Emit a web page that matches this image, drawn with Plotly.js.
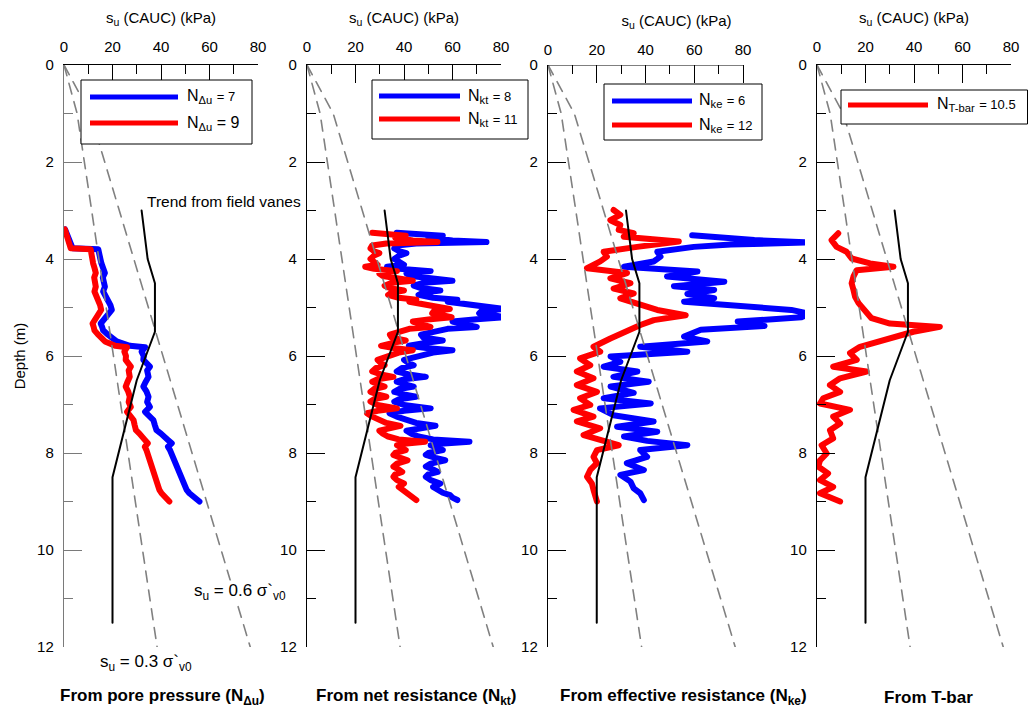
<!DOCTYPE html>
<html>
<head>
<meta charset="utf-8">
<script src="https://cdn.plot.ly/plotly-3.0.1.min.js"></script>
<style>
  html, body { margin: 0; padding: 0; background: #fff; }
  #chart { width: 1028px; height: 711px; }
  .scatterlayer .js-line { stroke-linejoin: round; stroke-linecap: round; }
</style>
</head>
<body>
<div id="chart"></div>
<script>
// ---- Cone sounding 1: pore pressure excess (kPa) ----
const duDepth = [3.39,3.50,3.60,3.70,3.78,3.80,3.88,4.00,4.09,4.20,4.29,4.38,4.47,4.57,4.67,4.76,4.84,4.95,5.05,5.12,5.19,5.26,5.33,5.40,5.47,5.55,5.60,5.70,5.79,5.82,5.91,6.00,6.08,6.15,6.22,6.30,6.43,6.53,6.63,6.73,6.84,6.95,7.05,7.15,7.25,7.32,7.42,7.53,7.60,7.66,7.73,7.80,7.87,7.94,8.05,8.15,8.25,8.35,8.45,8.56,8.66,8.76,8.83,8.90,9.00];
const du = [3,10,14,22,25,99,100,105,108,114,118,112,113,118,113,121,128,134,138,130,123,112,106,110,113,125,133,152,190,234,224,230,229,240,248,240,244,236,229,238,244,240,248,234,250,258,262,267,280,287,300,311,300,306,312,321,326,330,337,344,348,354,362,373,391];

// ---- Net cone resistance (kPa) ----
const qnDepth = [3.46,3.48,3.52,3.56,3.62,3.65,3.68,3.72,3.78,3.84,3.88,3.93,4.00,4.06,4.12,4.16,4.20,4.25,4.30,4.35,4.40,4.45,4.49,4.55,4.60,4.65,4.69,4.74,4.80,4.84,4.88,4.95,5.00,5.03,5.07,5.12,5.17,5.20,5.24,5.29,5.35,5.40,5.44,5.50,5.56,5.62,5.68,5.72,5.79,5.84,5.88,5.93,5.98,6.04,6.08,6.15,6.19,6.25,6.32,6.38,6.43,6.48,6.53,6.58,6.63,6.68,6.74,6.79,6.84,6.89,6.94,7.01,7.08,7.13,7.18,7.25,7.32,7.38,7.44,7.49,7.54,7.60,7.66,7.72,7.77,7.81,7.84,7.90,7.94,8.00,8.04,8.10,8.15,8.22,8.28,8.34,8.39,8.44,8.49,8.56,8.63,8.70,8.76,8.82,8.87,8.92,8.97];
const qnet = [296,360,448,400,480,592,360,296,288,304,328,304,288,304,320,264,304,408,328,344,400,480,384,352,376,440,384,368,416,496,464,536,600,648,576,568,624,656,560,480,520,560,464,416,376,384,448,400,336,400,480,416,384,336,320,336,352,312,296,336,392,320,296,320,352,304,288,320,360,304,288,320,408,320,272,296,328,360,424,360,328,344,368,416,536,440,408,432,448,400,392,424,456,408,392,416,432,400,392,408,440,416,432,448,472,480,496];

// ---- Effective cone resistance (kPa), two profiles ----
const qeADepth = [3.51,3.57,3.61,3.66,3.70,3.75,3.85,3.95,4.05,4.16,4.21,4.26,4.36,4.47,4.56,4.64,4.72,4.81,4.88,4.97,5.05,5.13,5.20,5.29,5.38,5.46,5.60,5.70,5.81,5.91,6.01,6.12,6.22,6.32,6.43,6.53,6.63,6.76,6.87,6.98,7.08,7.22,7.35,7.46,7.56,7.66,7.75,7.84,7.94,8.08,8.21,8.35,8.45,8.59,8.73,8.83,8.97];
const qeA = [355,434,508,644,450,359,269,277,260,187,277,368,293,434,310,409,343,409,335,491,599,644,624,467,533,376,335,392,227,343,154,178,137,220,161,248,154,211,137,253,128,161,260,170,269,187,244,343,227,244,194,236,178,203,211,227,236];
const qeBDepth = [2.99,3.09,3.20,3.30,3.40,3.47,3.54,3.64,3.75,3.85,3.95,4.05,4.19,4.29,4.40,4.50,4.61,4.71,4.81,4.95,5.05,5.16,5.26,5.36,5.50,5.64,5.81,5.91,6.05,6.19,6.32,6.46,6.60,6.74,6.87,7.01,7.11,7.25,7.35,7.49,7.63,7.73,7.84,7.94,8.08,8.21,8.35,8.49,8.63,8.76,8.87,9.00];
const qeB = [323,356,307,356,348,422,373,644,439,274,290,257,192,389,307,406,323,422,356,455,538,678,521,455,389,307,224,257,158,208,142,224,142,241,158,208,126,224,142,257,175,257,348,241,224,241,208,192,216,224,233,241];

// ---- T-bar penetration resistance (kPa) ----
const tbDepth = [3.47,3.61,3.75,3.85,3.99,4.09,4.16,4.23,4.36,4.50,4.64,4.78,4.91,5.02,5.12,5.22,5.33,5.40,5.50,5.60,5.70,5.81,5.94,6.08,6.22,6.32,6.46,6.60,6.74,6.87,6.98,7.11,7.25,7.39,7.53,7.70,7.84,8.01,8.15,8.28,8.42,8.56,8.70,8.83,9.00];
const qTbar = [92,63,85,128,150,230,331,172,158,150,158,165,180,201,215,236,316,532,417,347,258,186,143,172,70,215,100,56,100,27,13,143,70,100,56,70,20,42,13,5,48,13,70,13,100];

// ---- Cone factors ----
const N_du = [7, 9];
const N_kt = [8, 11];
const N_ke = [6, 12];
const N_tbar = 10.5;

// ---- Field vane trend and reference strength lines ----
const vaneDepth = [3, 4, 4.5, 5.5, 6.5, 8.5, 11.5];
const vaneSu = [32, 34.5, 37.5, 37.5, 30, 20, 20];
const refDepth = [0, 1, 12];
const su03 = [0, 5.4, 38.4];
const su06 = [0, 10.8, 76.8];

// ---- Axis ticks ----
const xTicks = [0, 20, 40, 60, 80];
const xMinor = [10, 30, 50, 70];
const yTicks = [0, 2, 4, 6, 8, 10, 12];
const yMinor = [1, 3, 5, 7, 9, 11];

const W = 1028, H = 711;
const FONT = 'Liberation Sans, Arial, Helvetica, sans-serif';
const BLUE = '#0000ff', RED = '#ff0000';
const px = x => x / W;
const py = y => 1 - y / H;

const div = (arr, n) => arr.map(v => v / n);

const traces = [];
function profile(x, y, color, ax) {
  traces.push({ type: 'scatter', mode: 'lines', x: x, y: y, xaxis: 'x' + ax, yaxis: 'y' + ax,
    line: { color: color, width: 6 }, showlegend: false, hoverinfo: 'skip' });
}
function guides(ax) {
  traces.push({ type: 'scatter', mode: 'lines', x: su03, y: refDepth, xaxis: 'x' + ax, yaxis: 'y' + ax,
    line: { color: '#808080', width: 1.6, dash: '11px,8px' }, showlegend: false, hoverinfo: 'skip' });
  traces.push({ type: 'scatter', mode: 'lines', x: su06, y: refDepth, xaxis: 'x' + ax, yaxis: 'y' + ax,
    line: { color: '#808080', width: 1.6, dash: '11px,8px' }, showlegend: false, hoverinfo: 'skip' });
  traces.push({ type: 'scatter', mode: 'lines', x: vaneSu, y: vaneDepth, xaxis: 'x' + ax, yaxis: 'y' + ax,
    line: { color: '#000', width: 2 }, showlegend: false, hoverinfo: 'skip' });
}

// Panel 1: pore pressure
profile(div(du, N_du[0]), duDepth, BLUE, '');
profile(div(du, N_du[1]), duDepth, RED, '');
guides('');
// Panel 2: net resistance
profile(div(qnet, N_kt[0]), qnDepth, BLUE, '2');
profile(div(qnet, N_kt[1]), qnDepth, RED, '2');
guides('2');
// Panel 3: effective resistance
profile(div(qeA, N_ke[0]), qeADepth, BLUE, '3');
profile(div(qeB, N_ke[1]), qeBDepth, RED, '3');
guides('3');
// Panel 4: T-bar
profile(div(qTbar, N_tbar), tbDepth, RED, '4');
guides('4');

const panels = [
  { ax: '',  x0: 64,  x1: 258, range: 80,  axisColor: '#7a7a7a', yTitle: 'Depth (m)', line: true },
  { ax: '2', x0: 307, x1: 501, range: 80,  axisColor: '#000', yTitle: '', line: true },
  { ax: '3', x0: 548, x1: 805, range: 80 * 257 / 195, axisColor: '#000', yTitle: '', line: false },
  { ax: '4', x0: 817, x1: 1011, range: 80, axisColor: '#000', yTitle: '', line: true }
];

const layout = {
  width: W, height: H,
  margin: { l: 0, r: 0, t: 0, b: 0 },
  paper_bgcolor: '#fff', plot_bgcolor: 'rgba(0,0,0,0)',
  font: { family: FONT, size: 15, color: '#000' },
  showlegend: false,
  shapes: [], annotations: []
};

const yDom = [py(647), py(65)];
panels.forEach(p => {
  const xa = 'xaxis' + p.ax, ya = 'yaxis' + p.ax;
  layout[xa] = {
    domain: [px(p.x0), px(p.x1)], range: [0, p.range], side: 'top', anchor: 'y' + p.ax,
    tickmode: 'array', tickvals: xTicks, ticks: 'inside', ticklen: 18, tickwidth: 1, tickcolor: '#000',
    minor: { tickmode: 'array', tickvals: xMinor, ticks: 'inside', ticklen: 9, tickwidth: 1, tickcolor: '#000' },
    showline: p.line, linecolor: '#000', linewidth: 1,
    showgrid: false, zeroline: false, fixedrange: true,
    tickfont: { size: 15 }, ticklabelstandoff: 6,
    title: { text: 's<sub>u</sub> (CAUC) (kPa)', font: { size: 15 }, standoff: 10 }
  };
  layout[ya] = {
    domain: yDom, range: [12, 0], anchor: 'x' + p.ax,
    tickmode: 'array', tickvals: yTicks, ticks: 'inside', ticklen: 18, tickwidth: 1, tickcolor: p.axisColor,
    minor: { tickmode: 'array', tickvals: yMinor, ticks: 'inside', ticklen: 9, tickwidth: 1, tickcolor: p.axisColor },
    showline: true, linecolor: p.axisColor, linewidth: 1.2,
    showgrid: false, zeroline: false, fixedrange: true,
    tickfont: { size: 15 }, ticklabelstandoff: 6,
    title: { text: p.yTitle, font: { size: 15 }, standoff: 7 }
  };
  if (!p.line) {
    layout.shapes.push({ type: 'line', xref: 'x' + p.ax, yref: 'y' + p.ax, x0: 0, x1: 80, y0: 0, y1: 0,
      line: { color: '#000', width: 1 } });
  }
});

// Legend boxes
function legendBox(x0, y0, x1, y1, items) {
  layout.shapes.push({ type: 'rect', xref: 'paper', yref: 'paper', x0: px(x0), x1: px(x1), y0: py(y1), y1: py(y0),
    line: { color: '#000', width: 1 }, fillcolor: '#fff', layer: 'above' });
  items.forEach(it => {
    layout.shapes.push({ type: 'line', xref: 'paper', yref: 'paper', x0: px(it.lx0), x1: px(it.lx1), y0: py(it.y), y1: py(it.y),
      line: { color: it.color, width: 5 } });
    layout.annotations.push({ xref: 'paper', yref: 'paper', x: px(it.tx), y: py(it.y), xanchor: 'left', yanchor: 'middle',
      text: it.text, showarrow: false, font: { size: 16 } });
  });
}
const small = s => '<span style="font-size:13px">' + s + '</span>';
legendBox(81, 80, 252, 144, [
  { lx0: 90, lx1: 178, y: 97, color: BLUE, tx: 185, text: 'N<sub>Δu</sub> ' + small('= ' + N_du[0]) },
  { lx0: 90, lx1: 178, y: 123, color: RED, tx: 185, text: 'N<sub>Δu</sub> = ' + N_du[1] }
]);
legendBox(372, 80, 528, 139, [
  { lx0: 379, lx1: 460, y: 96, color: BLUE, tx: 466, text: 'N<sub>kt</sub> ' + small('= ' + N_kt[0]) },
  { lx0: 379, lx1: 460, y: 119, color: RED, tx: 466, text: 'N<sub>kt</sub> ' + small('= ' + N_kt[1]) }
]);
legendBox(604, 84, 762, 140, [
  { lx0: 612, lx1: 692, y: 101, color: BLUE, tx: 697, text: 'N<sub>ke</sub> ' + small('= ' + N_ke[0]) },
  { lx0: 612, lx1: 692, y: 125, color: RED, tx: 697, text: 'N<sub>ke</sub> ' + small('= ' + N_ke[1]) }
]);
legendBox(841, 90, 1027.5, 124, [
  { lx0: 848, lx1: 928, y: 105, color: RED, tx: 935, text: 'N<sub>T-bar</sub> ' + small('= ' + N_tbar) }
]);

// Text labels
function label(x, y, text, opts) {
  layout.annotations.push(Object.assign({ xref: 'paper', yref: 'paper', x: px(x), y: py(y), text: text,
    showarrow: false, xanchor: 'left', yanchor: 'middle', font: { size: 15 } }, opts || {}));
}
label(145, 201, 'Trend from field vanes', { font: { size: 15.5 } });
label(193, 592, 's<sub>u</sub> = 0.6 σ`<sub>v0</sub>', { font: { size: 17 }, bgcolor: '#fff', borderpad: 0 });
label(98, 663, 's<sub>u</sub> = 0.3 σ`<sub>v0</sub>', { font: { size: 17 } });

const boldFont = { family: FONT, size: 17, weight: 'bold' };
label(162, 697, '<b>From pore pressure (N<sub>Δu</sub>)</b>', { xanchor: 'center', font: boldFont });
label(416, 697, '<b>From net resistance (N<sub>kt</sub>)</b>', { xanchor: 'center', font: boldFont });
label(683, 697, '<b>From effective resistance (N<sub>ke</sub>)</b>', { xanchor: 'center', font: boldFont });
label(928, 697, '<b>From T-bar</b>', { xanchor: 'center', font: boldFont });

Plotly.newPlot('chart', traces, layout, { staticPlot: true, displayModeBar: false });
</script>
</body>
</html>
